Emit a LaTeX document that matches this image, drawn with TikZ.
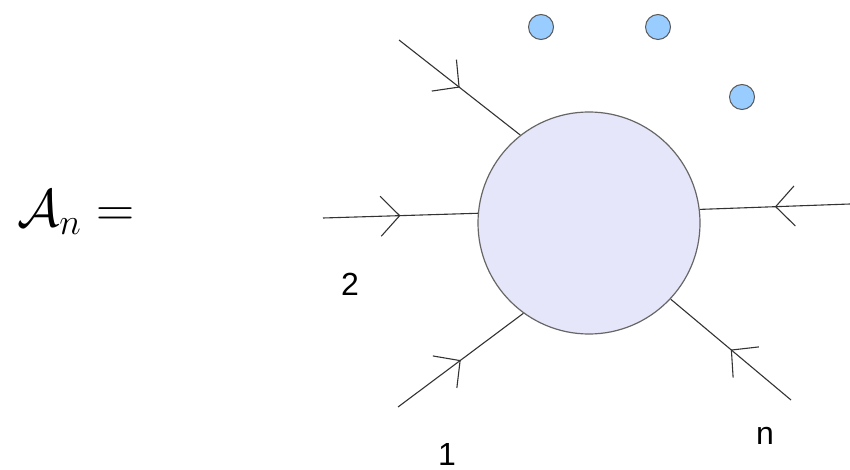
\documentclass[tikz,border=0pt]{standalone}
\usepackage{fontspec}
\setsansfont{Liberation Sans}
\usetikzlibrary{arrows.meta,decorations.markings}
\definecolor{blobfill}{HTML}{E6E6FA}
\definecolor{dotfill}{HTML}{99CCFF}

\begin{document}
\begin{tikzpicture}[
  x=1pt, y=-1pt,
  blob/.style={circle, draw=black!60, fill=blobfill, line width=1.2pt, minimum size=222pt, inner sep=0pt},
  dot/.style={circle, draw=black!65, fill=dotfill, line width=1pt, minimum size=25pt, inner sep=0pt},
  leg/.style={draw=black!80, line width=1.1pt, postaction={decorate},
    decoration={markings, mark=at position 0.5 with {\arrow{Straight Barb[length=19pt, width=40pt, line width=1.1pt]}}}},
  lab/.style={font=\sffamily\fontsize{32}{38}\selectfont, inner sep=0pt},
]
\useasboundingbox (0,0) rectangle (850,470);

\node[font=\fontsize{20}{24}\selectfont, scale=2.55] (amp) at (76,212) {$\mathcal{A}_n =$};

\node[blob] (blob) at (589,223) {};

% external legs, all pointing in
\coordinate (e1) at (398,407);
\coordinate (e2) at (323,218);
\coordinate (e3) at (399,40);
\coordinate (en) at (791,400);
\coordinate (em) at (850,204);
\draw[leg] (e1) -- (blob.-126.3);
\draw[leg] (e2) -- (blob.175.4);
\draw[leg] (e3) -- (blob.128.3);
\draw[leg] (en) -- (blob.-43.2);
\draw[leg] (em) -- (blob.7.2);

% dots for the other legs
\node[dot] (d1) at (541,27) {};
\node[dot] (d2) at (658,27) {};
\node[dot] (d3) at (742,97) {};

\node[lab] (l1) at (447,454) {1};
\node[lab] (l2) at (350,284) {2};
\node[lab] (ln) at (765,436) {n};
\end{tikzpicture}
\end{document}
